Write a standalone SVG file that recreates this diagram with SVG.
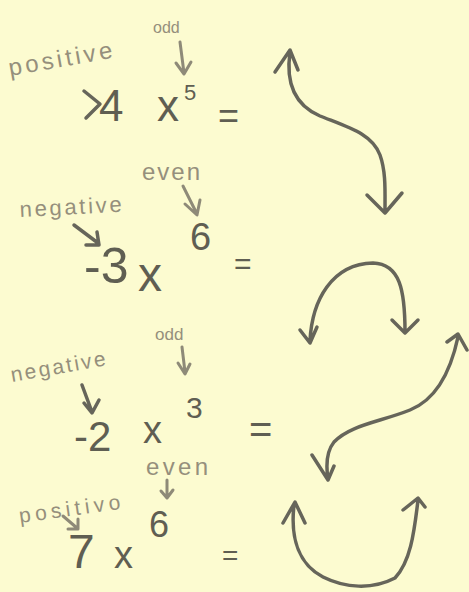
<svg xmlns="http://www.w3.org/2000/svg" width="469" height="592" viewBox="0 0 469 592">
<style>
.ink{fill:none;stroke:#66655a;stroke-width:3.5;stroke-linecap:round;stroke-linejoin:round}
.lab{fill:none;stroke:#8e8a78;stroke-width:3;stroke-linecap:round;stroke-linejoin:round}
.big{font-family:"Liberation Sans","DejaVu Sans",sans-serif;fill:#5f5e52}
.note{font-family:"Liberation Sans","DejaVu Sans",sans-serif;fill:#958f7c}
</style>
<rect width="469" height="592" fill="#fcfbd0"/>
<g id="row1">
<text class="note" x="10" y="76" font-size="24" textLength="105" lengthAdjust="spacing" transform="rotate(-10 10 76)">positive</text>
<text class="note" x="153" y="33" font-size="16">odd</text>
<path class="lab" d="M180,42 L184,73 M176,63 L184,74 L191,62"/>
<path class="ink" d="M84,91 L100,104 L86,118"/>
<text class="big" x="99" y="121" font-size="44">4</text>
<text class="big" x="157" y="121" font-size="44">x</text>
<text class="big" x="184" y="100" font-size="22">5</text>
<text class="big" x="218" y="128" font-size="36">=</text>
</g>
<g id="row2">
<text class="note" x="142" y="180" font-size="24" textLength="58" lengthAdjust="spacing">even</text>
<path class="lab" d="M183,186 L197,214 M185,204 L197,215 L200,200"/>
<text class="big" x="190" y="250" font-size="38" fill="#7e7a68">6</text>
<text class="note" x="20" y="217" font-size="22" textLength="102" lengthAdjust="spacing" transform="rotate(-3 20 217)">negative</text>
<path class="ink" d="M74,225 L98,243 M86,245 L99,245 L97,232"/>
<text class="big" x="84" y="283" font-size="50">-3</text>
<text class="big" x="138" y="291" font-size="48" fill="#7a7666">x</text>
<text class="big" x="234" y="274" font-size="30">=</text>
</g>
<g id="row3">
<text class="note" x="155" y="340" font-size="17">odd</text>
<path class="lab" d="M182,347 L185,372 M178,363 L185,374 L190,364"/>
<text class="note" x="12" y="382" font-size="21" textLength="96" lengthAdjust="spacing" transform="rotate(-10 12 382)">negative</text>
<path class="ink" d="M82,385 L92,412 M84,403 L92,413 L99,400"/>
<text class="big" x="74" y="451" font-size="42">-2</text>
<text class="big" x="143" y="443" font-size="38">x</text>
<text class="big" x="186" y="418" font-size="30">3</text>
<text class="big" x="249" y="443" font-size="40">=</text>
</g>
<g id="row4">
<text class="note" x="146" y="475" font-size="24" textLength="62" lengthAdjust="spacing">even</text>
<path class="lab" d="M167,480 L167,497 M161,491 L167,498 L173,490"/>
<text class="big" x="149" y="537" font-size="36" fill="#7e7a68">6</text>
<text class="note" x="20" y="523" font-size="21" textLength="102" lengthAdjust="spacing" transform="rotate(-8 20 523)">positivo</text>
<path class="lab" d="M63,516 L77,528 M68,529 L78,529 L78,519"/>
<text class="big" x="68" y="568" font-size="48">7</text>
<text class="big" x="114" y="568" font-size="38">x</text>
<text class="big" x="222" y="565" font-size="28">=</text>
</g>
<g id="connectors">
<path class="ink" d="M290,52 C286,80 292,104 320,116 C350,128 372,134 380,155 C386,172 385,190 385,212 M367,195 L385,213 L402,193 M275,72 L290,50 L298,70"/>
<path class="ink" d="M310,341 C312,300 332,264 373,263 C400,264 405,290 405,332 M300,330 L310,343 L317,327 M392,320 L405,333 L418,320"/>
<path class="ink" d="M458,337 C452,365 440,398 410,410 C380,422 350,425 334,442 C326,452 326,466 328,479 M312,455 L328,480 L334,466 M447,342 L458,334 L467,350"/>
<path class="ink" d="M294,505 C290,540 300,565 323,577 C345,588 372,590 395,578 C410,562 414,535 418,500 M283,523 L295,502 L305,523 M403,510 L418,498 L425,507"/>
</g>
</svg>
